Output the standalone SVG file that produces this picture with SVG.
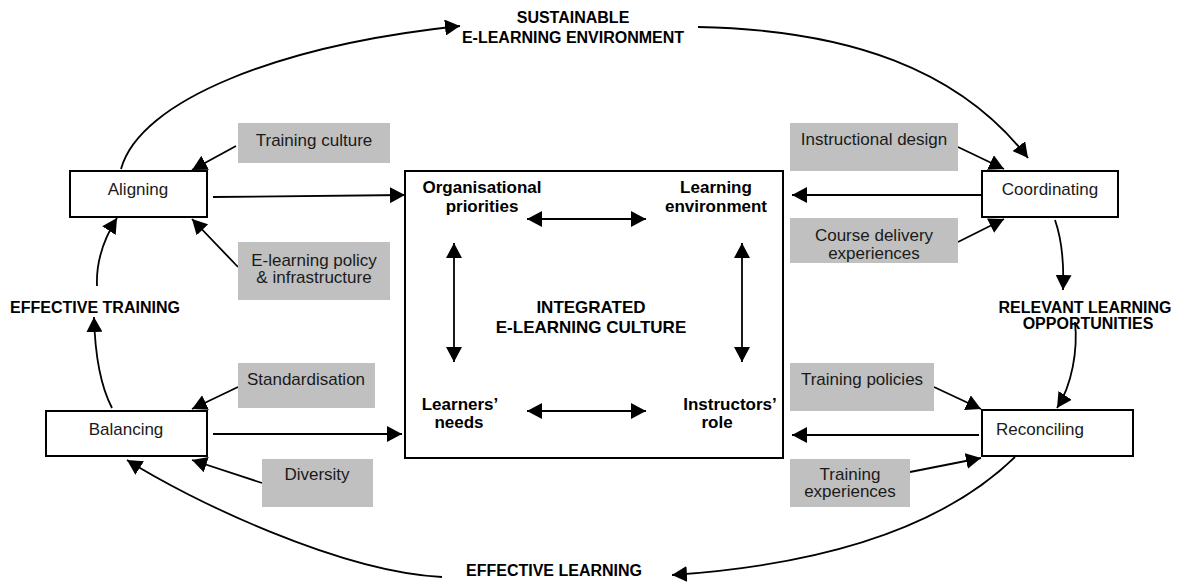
<svg xmlns="http://www.w3.org/2000/svg" width="1179" height="583" viewBox="0 0 1179 583">
<style>
.bg{fill:#ffffff}
.box{fill:#ffffff;stroke:#000;stroke-width:2}
.frame{fill:none;stroke:#000;stroke-width:2}
.grey{fill:#c0c0c0;stroke:none}
.t{font-family:"Liberation Sans",Arial,sans-serif;font-size:17px;fill:#1a1a1a;text-anchor:middle}
.b{font-family:"Liberation Sans",Arial,sans-serif;font-size:16px;font-weight:bold;fill:#000;text-anchor:middle}
.bi{font-family:"Liberation Sans",Arial,sans-serif;font-size:17px;font-weight:bold;fill:#000;text-anchor:middle}
.a{fill:none;stroke:#000;stroke-width:1.8;marker-end:url(#ah)}
.d{fill:none;stroke:#000;stroke-width:1.8;marker-end:url(#ah);marker-start:url(#ah)}
</style>
<defs>
<marker id="ah" markerUnits="userSpaceOnUse" markerWidth="16" markerHeight="16" refX="15" refY="8" orient="auto-start-reverse" viewBox="0 0 16 16">
<path d="M0,0 L15,8 L0,16 Z" fill="#000"/>
</marker>
<clipPath id="cdclip"><rect x="790" y="218" width="168" height="45"/></clipPath>
</defs>
<rect class="bg" x="0" y="0" width="1179" height="583"/>

<g id="central">
<rect class="frame" x="405" y="171" width="378" height="287"/>
<text class="bi" x="482" y="193">Organisational</text>
<text class="bi" x="482" y="212">priorities</text>
<text class="bi" x="716" y="193">Learning</text>
<text class="bi" x="716" y="212">environment</text>
<text class="bi" x="591" y="313">INTEGRATED</text>
<text class="bi" x="591" y="333">E-LEARNING CULTURE</text>
<text class="bi" x="460" y="410">Learners’</text>
<text class="bi" x="459" y="428">needs</text>
<text class="bi" x="730" y="410">Instructors’</text>
<text class="bi" x="717" y="428">role</text>
</g>

<g id="connectors">
<path class="a" d="M121,169 C140,100 280,45 460,26"/>
<path class="a" d="M698,27 C850,30 960,70 1028,158"/>
<path class="a" d="M1055,220 C1062,240 1064,265 1063,290"/>
<path class="a" d="M1075,322 C1078,350 1072,385 1057,408"/>
<path class="a" d="M1015,457 C940,530 820,565 672,575"/>
<path class="a" d="M442,577 C340,572 190,500 127,460"/>
<path class="a" d="M112,408 C100,385 95,355 94,317"/>
<path class="a" d="M97,286 C96,262 103,240 117,218"/>
<path class="a" d="M213,197 L405,195"/>
<path class="a" d="M213,434 L402,434"/>
<path class="a" d="M982,195 L792,195"/>
<path class="a" d="M979,435 L792,435"/>
<path class="a" d="M236,146 L192,170"/>
<path class="a" d="M238,267 L192,219"/>
<path class="a" d="M238,387 L192,409"/>
<path class="a" d="M262,483 L192,460"/>
<path class="a" d="M958,147 L1004,169"/>
<path class="a" d="M958,242 L1004,219"/>
<path class="a" d="M934,387 L981,409"/>
<path class="a" d="M910,472 L981,458"/>
<path class="d" d="M527,219 L646,219"/>
<path class="d" d="M527,411 L646,411"/>
<path class="d" d="M454,243 L454,362"/>
<path class="d" d="M742,243 L742,362"/>
</g>

<g id="aligning">
<rect class="box" x="70" y="171" width="137" height="46"/>
<text class="t" x="138" y="195">Aligning</text>
</g>
<g id="balancing">
<rect class="box" x="46" y="411" width="161" height="45"/>
<text class="t" x="126" y="435">Balancing</text>
</g>
<g id="coordinating">
<rect class="box" x="982" y="171" width="136" height="46"/>
<text class="t" x="1050" y="195">Coordinating</text>
</g>
<g id="reconciling">
<rect class="box" x="982" y="410" width="151" height="46"/>
<text class="t" x="1040" y="435">Reconciling</text>
</g>

<g id="training-culture">
<rect class="grey" x="238" y="123" width="152" height="40"/>
<text class="t" x="314" y="146">Training culture</text>
</g>
<g id="elearning-policy">
<rect class="grey" x="238" y="242" width="152" height="58"/>
<text class="t" x="314" y="266">E-learning policy</text>
<text class="t" x="314" y="283">&amp; infrastructure</text>
</g>
<g id="standardisation">
<rect class="grey" x="238" y="363" width="137" height="45"/>
<text class="t" x="306" y="385">Standardisation</text>
</g>
<g id="diversity">
<rect class="grey" x="262" y="459" width="111" height="48"/>
<text class="t" x="317" y="480">Diversity</text>
</g>
<g id="instructional-design">
<rect class="grey" x="790" y="123" width="168" height="48"/>
<text class="t" x="874" y="145">Instructional design</text>
</g>
<g id="course-delivery">
<rect class="grey" x="790" y="218" width="168" height="45"/>
<g clip-path="url(#cdclip)">
<text class="t" x="874" y="241">Course delivery</text>
<text class="t" x="874" y="259">experiences</text>
</g>
</g>
<g id="training-policies">
<rect class="grey" x="790" y="363" width="144" height="48"/>
<text class="t" x="862" y="385">Training policies</text>
</g>
<g id="training-experiences">
<rect class="grey" x="790" y="459" width="120" height="48"/>
<text class="t" x="850" y="480">Training</text>
<text class="t" x="850" y="497">experiences</text>
</g>

<g id="labels">
<text class="b" x="573" y="23">SUSTAINABLE</text>
<text class="b" x="573" y="43">E-LEARNING ENVIRONMENT</text>
<text class="b" x="95" y="313">EFFECTIVE TRAINING</text>
<text class="b" x="1085" y="313">RELEVANT LEARNING</text>
<text class="b" x="1088" y="329">OPPORTUNITIES</text>
<text class="b" x="554" y="576">EFFECTIVE LEARNING</text>
</g>
</svg>
